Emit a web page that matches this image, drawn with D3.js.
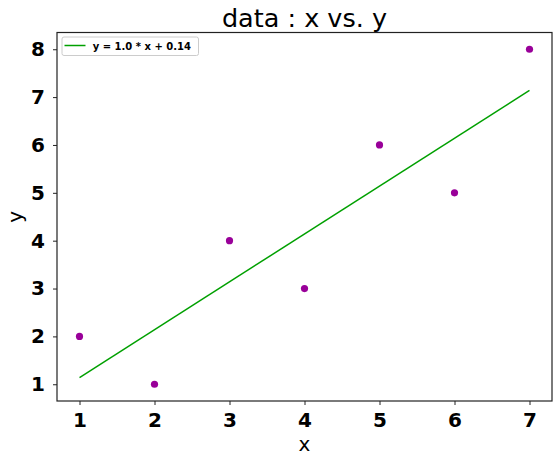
<!DOCTYPE html>
<html><head><meta charset="utf-8">
<script src="https://cdn.jsdelivr.net/npm/d3@7"></script>
<style>body{margin:0;background:#fff}svg{display:block}text{font-family:"DejaVu Sans",sans-serif}</style>
</head><body><svg id="c" width="559" height="462"></svg>
<script>
const xs = [1, 2, 3, 4, 5, 6, 7];
const ys = [2, 1, 4, 3, 6, 5, 8];
const slope = 1.0, intercept = 0.14;
const xTicks = [1, 2, 3, 4, 5, 6, 7];
const yTicks = [1, 2, 3, 4, 5, 6, 7, 8];
const title = "data : x vs. y";
const legendLabel = "y = 1.0 * x + 0.14";

const svg = d3.select("#c");
const L = 57, R = 552, T = 32.5, B = 401;
const x = d3.scaleLinear().domain([0.7, 7.3]).range([L, R]);
const y = d3.scaleLinear().domain([0.65, 8.35]).range([B, T]);

// fit line
const line = d3.line().x(d => x(d)).y(d => y(slope * d + intercept));
svg.append("path").datum([d3.min(xs), d3.max(xs)]).attr("d", line)
  .attr("fill", "none").attr("stroke", "#00a000").attr("stroke-width", 1.5);

svg.selectAll("circle.pt").data(xs).enter().append("circle")
  .attr("cx", d => x(d)).attr("cy", (d, i) => y(ys[i])).attr("r", 3.6)
  .attr("fill", "#990099");

// axes
const xa = svg.append("g").attr("transform", `translate(0,${B})`)
  .call(d3.axisBottom(x).tickValues(xTicks).tickSize(4).tickPadding(8).tickFormat(d3.format("d")));
const ya = svg.append("g").attr("transform", `translate(${L},0)`)
  .call(d3.axisLeft(y).tickValues(yTicks).tickSize(4).tickPadding(8).tickFormat(d3.format("d")));
[xa, ya].forEach(a => {
  a.select(".domain").remove();
  a.selectAll("line").attr("stroke", "#222").attr("stroke-width", 1);
  a.selectAll("text").attr("font-family", "DejaVu Sans").attr("font-weight", "bold")
    .attr("font-size", 20).attr("fill", "#000");
});
xa.selectAll("text").attr("dy", "0.71em");
svg.append("rect").attr("x", L).attr("y", T).attr("width", R - L).attr("height", B - T)
  .attr("fill", "none").attr("stroke", "#222").attr("stroke-width", 1.2);

// title & labels
svg.append("text").attr("x", (L + R) / 2).attr("y", 26.5).attr("text-anchor", "middle")
  .attr("font-size", 25.5).attr("fill", "#000").text(title);
svg.append("text").attr("x", (L + R) / 2).attr("y", 451).attr("text-anchor", "middle")
  .attr("font-size", 20).attr("fill", "#000").text("x");
svg.append("text").attr("transform", `translate(22,${(T + B) / 2}) rotate(-90)`)
  .attr("text-anchor", "middle").attr("font-size", 20).attr("fill", "#000").text("y");

// legend
const lg = svg.append("g");
lg.append("rect").attr("x", 62).attr("y", 37).attr("width", 136.5).attr("height", 18.5)
  .attr("rx", 2).attr("fill", "#fff").attr("stroke", "#ccc").attr("stroke-width", 1);
lg.append("line").attr("x1", 64.5).attr("x2", 85.5).attr("y1", 45.5).attr("y2", 45.5)
  .attr("stroke", "#00a000").attr("stroke-width", 1.5);
lg.append("text").attr("x", 92.7).attr("y", 49.5).attr("font-size", 10).attr("font-weight", "bold")
  .attr("fill", "#000").text(legendLabel);
</script></body></html>
